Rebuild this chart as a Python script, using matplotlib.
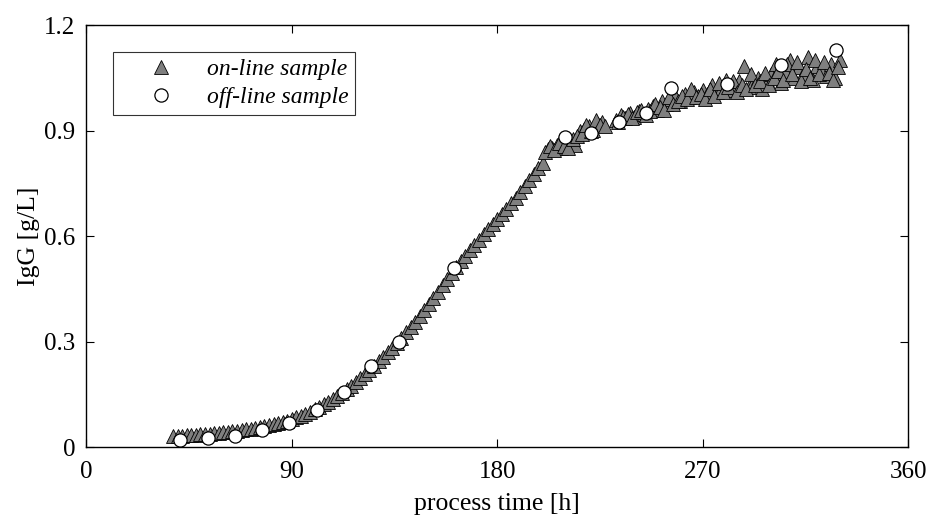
import numpy as np
import matplotlib
matplotlib.use("Agg")
import matplotlib.pyplot as plt

plt.rcParams['font.family'] = ['Liberation Serif', 'DejaVu Serif']

# on-line sample (process time [h], IgG [g/L])
online_t = [38, 40, 42, 44, 46, 48, 50, 52, 54, 56,
            58, 60, 62, 64, 66, 68, 70, 72, 74, 76,
            78, 80, 82, 84, 86, 88, 90, 92, 94, 96,
            98, 100, 102, 104, 106, 108, 110, 112, 114, 116,
            118, 120, 122, 124, 126, 128, 130, 132, 134, 136,
            138, 140, 142, 144, 146, 148, 150, 152, 154, 156,
            158, 160, 162, 164, 166, 168, 170, 172, 174, 176,
            178, 180, 182, 184, 186, 188, 190, 192, 194, 196,
            198, 200, 202, 204, 206, 208, 210, 212, 214, 216,
            218, 220, 222, 224, 226, 232, 234, 236, 238, 240,
            242, 244, 246, 248, 250, 252, 254, 256, 258, 260,
            262, 264, 266, 268, 270, 272, 274, 276, 278, 280,
            282, 284, 286, 288, 290, 292, 294, 296, 298, 300,
            302, 304, 306, 308, 310, 312, 314, 316, 318, 320,
            322, 324, 326, 328, 330]
online_igg = [0.030, 0.031, 0.032, 0.033, 0.034, 0.035, 0.036, 0.037, 0.038, 0.040,
              0.041, 0.042, 0.044, 0.045, 0.046, 0.048, 0.050, 0.052, 0.054, 0.056,
              0.059, 0.062, 0.065, 0.068, 0.072, 0.075, 0.080, 0.084, 0.089, 0.095,
              0.101, 0.107, 0.114, 0.121, 0.129, 0.137, 0.145, 0.155, 0.164, 0.174,
              0.185, 0.196, 0.207, 0.219, 0.231, 0.244, 0.257, 0.270, 0.283, 0.297,
              0.311, 0.326, 0.341, 0.357, 0.373, 0.390, 0.407, 0.425, 0.442, 0.460,
              0.478, 0.496, 0.512, 0.528, 0.544, 0.560, 0.575, 0.590, 0.605, 0.620,
              0.635, 0.650, 0.664, 0.678, 0.693, 0.708, 0.725, 0.742, 0.760, 0.778,
              0.795, 0.808, 0.848, 0.852, 0.858, 0.850, 0.862, 0.868, 0.858, 0.898,
              0.905, 0.912, 0.902, 0.920, 0.925, 0.930, 0.945, 0.935, 0.950, 0.940,
              0.955, 0.948, 0.962, 0.970, 0.958, 0.985, 0.975, 0.990, 0.998, 0.985,
              1.005, 0.995, 1.010, 1.000, 1.015, 1.005, 1.030, 1.010, 1.020, 1.045,
              1.015, 1.030, 1.040, 1.085, 1.025, 1.035, 1.050, 1.020, 1.045, 1.060,
              1.090, 1.035, 1.070, 1.100, 1.050, 1.080, 1.060, 1.110, 1.045, 1.085,
              1.070, 1.055, 1.090, 1.050, 1.100]

# extra on-line samples in the late, noisier phase
online_t_late = [201, 203, 205, 207, 209, 211, 213, 215, 217, 219,
                 221, 223, 225, 227, 233, 235, 237, 239, 241, 243,
                 245, 247, 249, 251, 253, 255, 257, 259, 261, 263,
                 265, 267, 269, 271, 273, 275, 277, 279, 281, 283,
                 285, 287, 289, 291, 293, 295, 297, 299, 301, 303,
                 305, 307, 309, 311, 313, 315, 317, 319, 321, 323,
                 325, 327, 329]
online_igg_late = [0.840, 0.855, 0.845, 0.865, 0.855, 0.850, 0.875, 0.885, 0.890, 0.915,
                   0.900, 0.930, 0.915, 0.912, 0.925, 0.940, 0.948, 0.935, 0.952, 0.960,
                   0.945, 0.955, 0.975, 0.968, 0.960, 0.995, 0.975, 0.985, 1.000, 0.990,
                   1.020, 0.995, 1.005, 0.990, 1.020, 1.000, 1.035, 1.010, 1.025, 1.040,
                   1.010, 1.030, 1.020, 1.060, 1.030, 1.040, 1.065, 1.030, 1.050, 1.070,
                   1.045, 1.090, 1.060, 1.095, 1.040, 1.075, 1.050, 1.100, 1.060, 1.095,
                   1.065, 1.045, 1.080]

# off-line sample
offline_t = [41.2, 53.3, 65.3, 77.0, 88.9, 101.0, 112.7, 124.7, 136.8, 161.2,
             209.8, 220.8, 233.2, 244.9, 256.1, 280.6, 304.0, 328.1]
offline_igg = [0.020, 0.025, 0.031, 0.048, 0.069, 0.105, 0.157, 0.230, 0.299, 0.508,
               0.882, 0.892, 0.925, 0.951, 1.022, 1.034, 1.086, 1.129]

fig = plt.figure(figsize=(9.27, 5.15), dpi=100)
ax = fig.add_axes([0.093, 0.132, 0.887, 0.819])

tri = dict(linestyle='none', marker='^', markersize=10.5, markerfacecolor='#7f7f7f',
           markeredgecolor='black', markeredgewidth=0.6)
ax.plot(online_t, online_igg, label='on-line sample', **tri)
ax.plot(online_t_late, online_igg_late, **tri)
ax.plot(offline_t, offline_igg, linestyle='none', marker='o', markersize=9.5,
        markerfacecolor='white', markeredgecolor='black', markeredgewidth=0.9,
        label='off-line sample')

ax.set_xlim(0, 360)
ax.set_ylim(0, 1.2)
ax.set_xticks([0, 90, 180, 270, 360])
ax.set_yticks([0, 0.3, 0.6, 0.9, 1.2])
ax.set_yticklabels(['0', '0.3', '0.6', '0.9', '1.2'])
ax.tick_params(direction='in', top=True, right=True, labelsize=18, length=6, width=0.8)
ax.tick_params(axis='x', pad=10)
ax.tick_params(axis='y', pad=8)
for s in ax.spines.values():
    s.set_linewidth(1.0)

ax.set_xlabel('process time [h]', fontsize=18.5, labelpad=7)
ax.set_ylabel('IgG [g/L]', fontsize=18.5, labelpad=3)

leg = ax.legend(loc='upper left', bbox_to_anchor=(0.032, 0.937),
                prop={'style': 'italic', 'size': 17}, frameon=True, fancybox=False,
                edgecolor='black', handletextpad=0.22, borderpad=0.3,
                labelspacing=0.25, handlelength=3.47, borderaxespad=0)
leg.get_frame().set_linewidth(0.8)

fig.savefig('out.png', dpi=100)
